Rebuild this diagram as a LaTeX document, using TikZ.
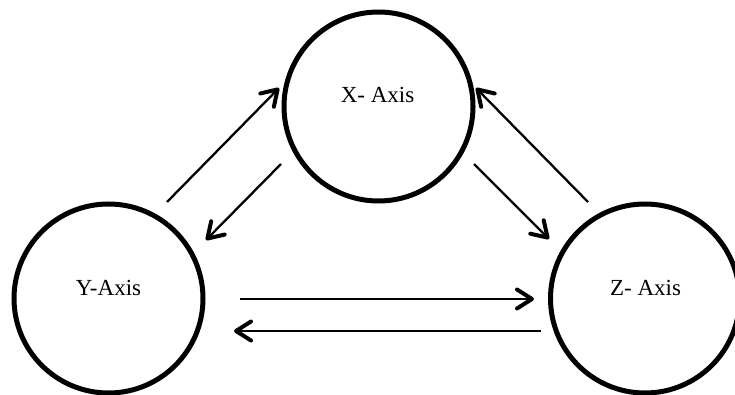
\documentclass[tikz,border=0pt]{standalone}
\usepackage{fontspec}
\setmainfont{Liberation Serif}
\usetikzlibrary{arrows.meta}
\tikzset{
  axiscircle/.style={circle, draw=black, line width=5pt, minimum size=189pt, inner sep=0pt},
  axislabel/.style={font=\fontsize{23}{27}\selectfont, inner sep=0pt},
  flow/.style={line width=2.3pt, -{Straight Barb[length=15pt, width=19pt, line width=4pt, round]}}
}
\begin{document}
\begin{tikzpicture}[x=1pt, y=-1pt]
\useasboundingbox (0,0) rectangle (735,395);
\node[axiscircle] (X) at (378.5,106.5) {};
\node[axiscircle] (Y) at (108.5,298.5) {};
\node[axiscircle] (Z) at (645,298.5) {};
\node[axislabel] (xl) at (377.5,95) {X- Axis};
\node[axislabel] (yl) at (108.5,288) {Y-Axis};
\node[axislabel] (zl) at (645.5,288) {Z- Axis};
% connector ends
\coordinate (a1s) at (167,202); \coordinate (a1e) at (279,88);
\coordinate (a2s) at (281,164); \coordinate (a2e) at (206,240);
\coordinate (a3s) at (474,164); \coordinate (a3e) at (549,239);
\coordinate (a4s) at (588,202); \coordinate (a4e) at (476,88);
\coordinate (a5s) at (240,299); \coordinate (a5e) at (534,299);
\coordinate (a6s) at (541,331); \coordinate (a6e) at (234,331);
\draw[flow] (a1s) -- (a1e);
\draw[flow] (a2s) -- (a2e);
\draw[flow] (a3s) -- (a3e);
\draw[flow] (a4s) -- (a4e);
\draw[flow] (a5s) -- (a5e);
\draw[flow] (a6s) -- (a6e);
\end{tikzpicture}
\end{document}
